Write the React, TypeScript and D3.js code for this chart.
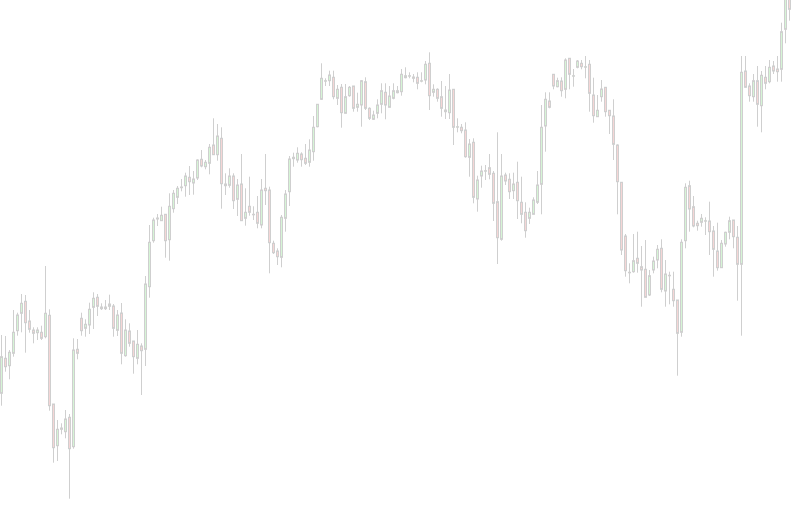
import React from "react";
import * as d3 from "d3";

const highs = [172,171,157,197,194.3,213,212,197,179.7,179.7,181.3,241,197.7,103,87,83.7,97,93,168.7,168,194.3,187.7,204.3,214.7,213,203.7,207,212.3,203,197,204,187.7,183.7,166,177,163.7,231,282,289.3,293,300.3,292.7,313.7,317,321,328,334.3,341,336,347.7,357,347,363,388.7,383,379.7,333.7,338.7,333.7,328,353,318.7,330.3,300.7,311,328,353,320.3,266.3,258.7,292,317,351,354.3,359.7,354.7,363,367.7,391,402.7,443.7,428.7,436.3,436.3,422,423,423,421,421,414.3,427,429.7,399.7,396.3,407.7,423.7,423.7,421,423.7,421,438,439.7,434.7,433,434.7,434.7,446,454.7,422.7,418.7,426,421,433,417.7,388.7,383,384.7,368,368.7,331.3,341.3,342,353,336,374.7,353,334.3,333.7,334.3,345.3,330.3,304.7,299.3,309.7,336,402,414.7,414.7,432.7,429.3,429.7,448.7,448.7,438,447,447,451,447,429.3,412,427,419.7,396.7,407.7,362.7,324.7,273,243.7,273,275.3,261,267,237,250.3,262,267.7,247,235.3,235.3,207,267.7,323.7,326.3,311,286.3,293,289.7,305.3,281,284.3,267,275.3,290.3,287,281,451,451,423.7,433,441,436,441,447,446,451,484.3,517,517];
const opens = [113.7,148.7,141.3,153.7,176.3,193.7,205.7,186,177,174.3,174.7,170.3,191.7,103,61.3,79,75.3,89.7,60.3,157.7,188.7,178.7,182,199.7,209.7,200,200,200.7,201,176.7,194,151.3,176,166,148.7,161,157.7,220.3,266.3,288,286.3,292.7,267.3,298.3,309.7,319.3,321.3,329.7,324,329,347.7,340.3,343.7,362,352.3,368.7,323,321.7,331,307.7,323,288.7,300.7,292.7,294.7,282,318.7,317,263.7,256,249.7,288.7,315.3,348.3,347,353,348.7,344.7,355.3,380.3,407.7,426,426.3,429.7,408.7,419.7,393.7,411.3,421,399.7,402,425.3,398.7,387.7,393.7,402.7,414.7,399.7,408.7,414.3,415.3,429.3,431.3,430,429.7,426.3,427,443.7,414.7,417.7,410.3,397,394.3,417.7,380.3,379.7,377,349.7,364.7,308,331,336.3,339.3,333.7,305.3,267.7,332,327.7,316.3,324.7,304.7,294.7,288.7,292.7,304.7,322.7,381,406,432.7,420.3,426,417.7,448.7,431.3,439.7,443.7,440.3,442.7,412,390.3,410.3,419.7,396.7,391,362,324.7,271,234.7,235.3,248.7,240.3,237.7,212,237,247,258.7,216,231.7,217.7,207,174.7,266.3,321.3,300.3,283.7,284.7,286.3,286,276,256,239.3,263,274.7,287,269.7,242.7,436,421,410.3,426.3,401.3,429.7,425.3,441,438,437.7,477.7,512];
const closes = [150.3,140.3,154.7,174.7,192,203.7,184.3,177.7,173.7,177,168.7,193.7,101.3,59.3,77.7,77.7,88,58.3,157,153.7,176.3,182.7,197.7,208.7,200.7,198.3,198.3,203,178.7,192,153.7,177,163.7,150.3,162.7,156.3,223,264.7,287,289,291.7,266.3,300.7,313.7,318.7,320,331,325.3,328,347,341,344.7,359.7,352.3,371,323.3,321.3,331,306.3,322,286.3,294.7,294.7,292.7,283.7,317,316.3,264.3,254.3,250.3,289.7,313,348,349.7,353.7,347.3,343.7,357,379.7,402.7,428.7,426.3,432,410.3,417.7,394.3,410.3,419.7,398.7,402.7,426.3,398.7,388.7,392,402,416.3,402,411,416.3,416.3,432.7,431.3,431.3,428.7,423.7,426.3,442.7,411.3,417.7,408.7,398.7,395.3,417,379.7,380.3,376.3,350.3,363,309.7,327,336,336.3,332.7,303.7,269.3,331,326,315.3,323,306.3,292.7,276.3,294.7,307,322,379.7,407.7,399.7,421,426.3,416.3,447,432.7,431.3,446,440.3,440.3,413.7,391.3,396.7,418,395.3,391.3,362.7,325.3,257,236.3,234.7,246.3,243.7,237,209.7,231.3,246,257.7,217.7,233,231.7,206.3,173.7,264.7,319.7,298,281,281.3,288.7,286.3,275.3,257.7,239.3,263.7,274.7,286.3,270.3,242.7,434.7,419.7,411.3,426.3,402.7,431.7,423.7,439.7,436,435.3,475.3,512,497.7];
const lows = [101.3,135.3,127.7,150.3,171.3,174.7,154.3,174.3,163.7,167,167,168.7,96.3,44.3,46,72.7,68.7,8.3,58.3,147.7,171.3,170.3,173,178,191,197,197,197,170.3,171,142.7,150.3,160.3,133.3,142.7,112,141,209.3,264.3,281,286.3,249.3,246.3,294.3,303,315.7,310.3,312,312.3,327,339.7,337.7,332.7,352.3,346.3,298.3,312,319.3,298,291,286.3,281.3,291.3,287,278.7,278.7,302,233.7,253,242,239.7,275.3,301,340.3,344.3,340.3,342,340.3,346.3,379.7,407,421,421,407.7,402,379.3,393.7,410.3,395.3,395.3,380.3,397,387,387,388.7,393.7,387.7,399.7,407.7,413.7,411.3,428.7,428.7,424.7,417.7,424.7,422.7,397,410.3,405.3,390.3,388,388,362,374.7,373.7,349.3,330.3,303.7,295.3,319.3,327,327.7,286,243,266.3,322,308,308,288,283.7,269.3,283,292.7,303,292.7,355.3,398.7,417.7,419.7,410.3,408.7,417.7,420.3,438.7,437.7,428.7,395.3,384.3,390.3,405.3,390.3,373,347,292.7,252,230.3,223.7,234.3,234.3,200.3,209.7,211,233.7,238.7,214.7,200.3,202.7,200.3,131.3,170.3,258.7,275.3,279.7,276.3,280.3,272,252,230.3,236.3,239.3,260.3,267.7,258.7,206.3,171.3,419.7,405.3,405.3,380.3,374.7,417.7,423.7,433,425.3,425.3,463.7,486.3];

const W = 811;
const H = 507;
const STEP = 4;

export default function App() {
  const n = opens.length;
  const x = d3.scaleLinear().domain([0, n]).range([1.5, 1.5 + STEP * n]);
  const y = d3.scaleLinear().domain([0, H]).range([H, 0]);
  const idx = d3.range(n);
  return (
    <svg
      width={W}
      height={H}
      style={{ position: "absolute", left: 0, top: 0, background: "#fff" }}
    >
      <g>
        {idx.map((i) => {
          const cx = x(i);
          const o = opens[i];
          const c = closes[i];
          const up = c >= o;
          const top = y(Math.max(o, c));
          const bot = y(Math.min(o, c));
          return (
            <g key={i}>
              <line
                x1={cx}
                x2={cx}
                y1={y(highs[i])}
                y2={y(lows[i])}
                stroke="#cfcfcf"
                strokeWidth={1}
              />
              <rect
                x={cx - 1}
                y={top}
                width={2}
                height={Math.max(bot - top, 0.5)}
                fill={up ? "#d6f5d6" : "#f5d6d6"}
                stroke="#cfcfcf"
                strokeWidth={1}
              />
            </g>
          );
        })}
      </g>
    </svg>
  );
}
